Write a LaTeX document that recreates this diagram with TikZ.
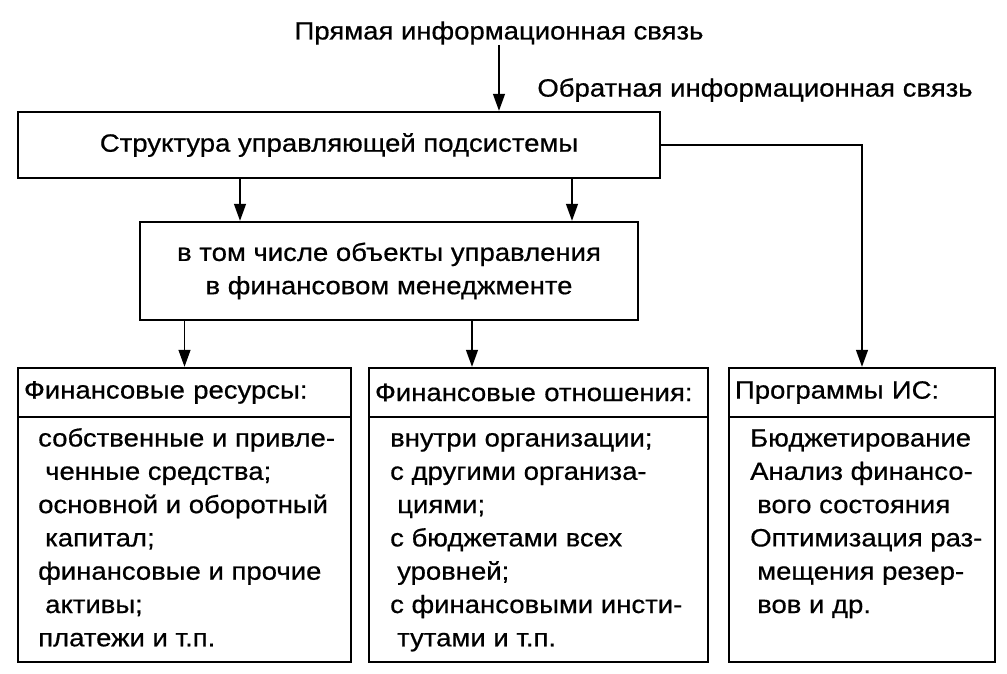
\documentclass[tikz,border=0pt]{standalone}
\usepackage{fontspec}
\setmainfont[FakeStretch=1.1,FakeBold=0.6]{Liberation Sans}
\usetikzlibrary{arrows.meta}

\tikzset{
  box/.style={draw, line width=2.4pt, inner sep=0pt},
  head/.style={box, minimum height=49pt, inner xsep=6pt, align=left},
  arr/.style={-{Triangle[length=17pt,width=12pt]}, line width=1.3pt},
  txt/.style={font=\fontsize{25}{33.3}\selectfont, inner sep=0pt},
}
\newcommand{\ind}{\hspace*{7pt}}

\begin{document}
\begin{tikzpicture}[x=1pt,y=1pt,yscale=-1,txt]
\useasboundingbox (0,0) rectangle (1007,674);

% top labels
\node (direct) at (499,33) {Прямая информационная связь};
\node (feedback) at (755,90) {Обратная информационная связь};

% upper boxes
\node[box, minimum width=642pt, minimum height=66pt] (struct) at (339,145) {Структура управляющей подсистемы};
\node[box, minimum width=498pt, minimum height=98pt, align=center] (objects) at (389,271)
  {в том числе объекты управления\\в финансовом менеджменте};

% lower boxes
\node[head, text width=321pt] (res) at (184.5,392.5) {Финансовые ресурсы:};
\node[box, minimum width=333pt, minimum height=245pt] (resbody) at (184.5,539.5) {};
\node[head, text width=327pt] (rel) at (538.5,392.5) {Финансовые отношения:};
\node[box, minimum width=339pt, minimum height=245pt] (relbody) at (538.5,539.5) {};
\node[head, text width=254pt] (prog) at (862,392.5) {Программы ИС:};
\node[box, minimum width=266pt, minimum height=245pt] (progbody) at (862,539.5) {};

\node[align=left, anchor=north west] (reslist) at (38,423) {\strut собственные и привле-\\
  \ind ченные средства;\\основной и оборотный\\\ind капитал;\\финансовые и прочие\\
  \ind активы;\\платежи и т.п.};
\node[align=left, anchor=north west] (rellist) at (390,423) {\strut внутри организации;\\
  с другими организа-\\\ind циями;\\с бюджетами всех\\\ind уровней;\\
  с финансовыми инсти-\\\ind тутами и т.п.};
\node[align=left, anchor=north west] (proglist) at (750,423) {\strut Бюджетирование\\
  Анализ финансо-\\\ind вого состояния\\Оптимизация раз-\\\ind мещения резер-\\\ind вов и др.};

% connectors
\coordinate (c1) at (240,0);
\coordinate (c2) at (572,0);
\coordinate (c3) at (472,0);
\draw[arr] (direct.south) -- (direct.south |- struct.north);
\draw[arr] (struct.south -| c1) -- (objects.north -| c1);
\draw[arr] (struct.south -| c2) -- (objects.north -| c2);
\draw[arr] (objects.south -| res.north) -- (res.north);
\draw[arr] (objects.south -| c3) -- (rel.north -| c3);
\draw[arr] (struct.east) -| (prog.north);

\end{tikzpicture}
\end{document}
